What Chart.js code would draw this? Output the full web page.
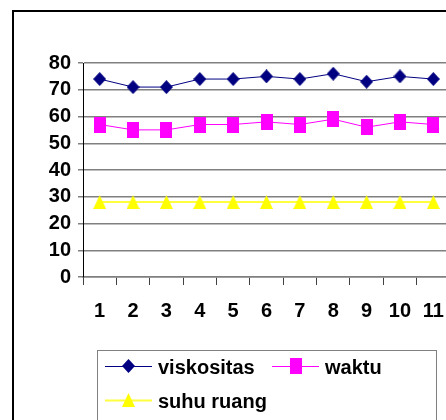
<!DOCTYPE html>
<html>
<head>
<meta charset="utf-8">
<script src="https://cdn.jsdelivr.net/npm/chart.js@4.4.1/dist/chart.umd.min.js"></script>
<style>
html, body { margin: 0; padding: 0; overflow: hidden; background: #fff; }
#frame { position: absolute; left: 12px; top: 10px; width: 600px; height: 600px; border: 2px solid #000; }
#chart { position: absolute; left: 0; top: 0; }
</style>
</head>
<body>
<div id="frame"></div>
<canvas id="chart" width="470" height="420"></canvas>
<script>
// nomor percobaan
const percobaan = ['1', '2', '3', '4', '5', '6', '7', '8', '9', '10', '11'];

const viskositas = [74, 71, 71, 74, 74, 75, 74, 76, 73, 75, 74];
const waktu = [57, 55, 55, 57, 57, 58, 57, 59, 56, 58, 57];
const suhuRuang = [28, 28, 28, 28, 28, 28, 28, 28, 28, 28, 28];

const namaSeri = ['viskositas', 'waktu', 'suhu ruang'];

const FONT = '"Liberation Sans", Arial, sans-serif';

// marker kecil digambar sendiri supaya ukurannya sama dengan versi Excel
function buatMarker(bentuk, w, h, warna) {
    const c = document.createElement('canvas');
    c.width = w;
    c.height = h;
    const g = c.getContext('2d');
    g.fillStyle = warna;
    g.beginPath();
    if (bentuk === 'belahKetupat') {
        g.moveTo(w / 2, 0);
        g.lineTo(w, h / 2);
        g.lineTo(w / 2, h);
        g.lineTo(0, h / 2);
    } else if (bentuk === 'segitiga') {
        g.moveTo(w / 2, 0);
        g.lineTo(w, h);
        g.lineTo(0, h);
    } else {
        g.rect(0, 0, w, h);
    }
    g.closePath();
    g.fill();
    return c;
}

const markerVisko = buatMarker('belahKetupat', 13, 14, '#000080');
const markerWaktu = buatMarker('kotak', 12, 16, '#FF00FF');
const markerSuhu = buatMarker('segitiga', 13, 14, '#FFFF00');

// legenda dengan kotak abu-abu, dua kolom
const legendaKotak = {
    id: 'legendaKotak',
    afterDraw(chart) {
        const ctx = chart.ctx;
        ctx.save();
        ctx.strokeStyle = '#808080';
        ctx.lineWidth = 1;
        ctx.strokeRect(97.5, 350.5, 339, 120);

        const posisi = [[105, 366], [272, 366], [105, 400]];
        ctx.font = 'bold 20px ' + FONT;
        ctx.textBaseline = 'middle';
        chart.data.datasets.forEach((ds, i) => {
            const [x, y] = posisi[i];
            ctx.strokeStyle = ds.borderColor;
            ctx.lineWidth = ds.borderWidth;
            ctx.beginPath();
            ctx.moveTo(x, y + 0.5);
            ctx.lineTo(x + 47, y + 0.5);
            ctx.stroke();
            const m = ds.pointStyle;
            ctx.drawImage(m, Math.round(x + 23.5 - m.width / 2), Math.round(y - m.height / 2));
            ctx.fillStyle = '#000';
            ctx.fillText(ds.label, x + 53, y + 2);
        });
        ctx.restore();
    }
};

const ctx = document.getElementById('chart').getContext('2d');
const grafik = new Chart(ctx, {
    type: 'line',
    data: {
        labels: percobaan,
        datasets: [
            {
                label: namaSeri[0],
                data: viskositas,
                borderColor: '#000080',
                borderWidth: 1,
                pointStyle: markerVisko,
                pointRadius: 7
            },
            {
                label: namaSeri[1],
                data: waktu,
                borderColor: '#FF00FF',
                borderWidth: 1,
                pointStyle: markerWaktu,
                pointRadius: 7
            },
            {
                label: namaSeri[2],
                data: suhuRuang,
                borderColor: '#FFFF40',
                borderWidth: 2,
                pointStyle: markerSuhu,
                pointRadius: 7
            }
        ]
    },
    options: {
        responsive: false,
        animation: false,
        devicePixelRatio: 1,
        layout: { padding: { left: 0, top: 63, right: 20, bottom: 83 } },
        plugins: {
            legend: { display: false },
            tooltip: { enabled: false }
        },
        scales: {
            x: {
                offset: true,
                grid: {
                    offset: true,
                    drawOnChartArea: false,
                    tickLength: 8,
                    color: '#404040',
                    lineWidth: 1
                },
                border: { color: '#808080', width: 1.5 },
                ticks: {
                    color: '#000',
                    font: { family: FONT, size: 20, weight: 'bold' },
                    padding: 14,
                    maxRotation: 0,
                    autoSkip: false
                },
                afterFit: scale => { scale.height = 60; }
            },
            y: {
                min: 0,
                max: 80,
                grid: {
                    color: '#808080',
                    lineWidth: 1.5,
                    tickLength: 5
                },
                border: { color: '#000', width: 1 },
                ticks: {
                    stepSize: 10,
                    autoSkip: false,
                    color: '#000',
                    font: { family: FONT, size: 20, weight: 'bold' },
                    padding: 7
                },
                afterFit: scale => { scale.width = 83; }
            }
        }
    },
    plugins: [legendaKotak]
});
</script>
</body>
</html>
